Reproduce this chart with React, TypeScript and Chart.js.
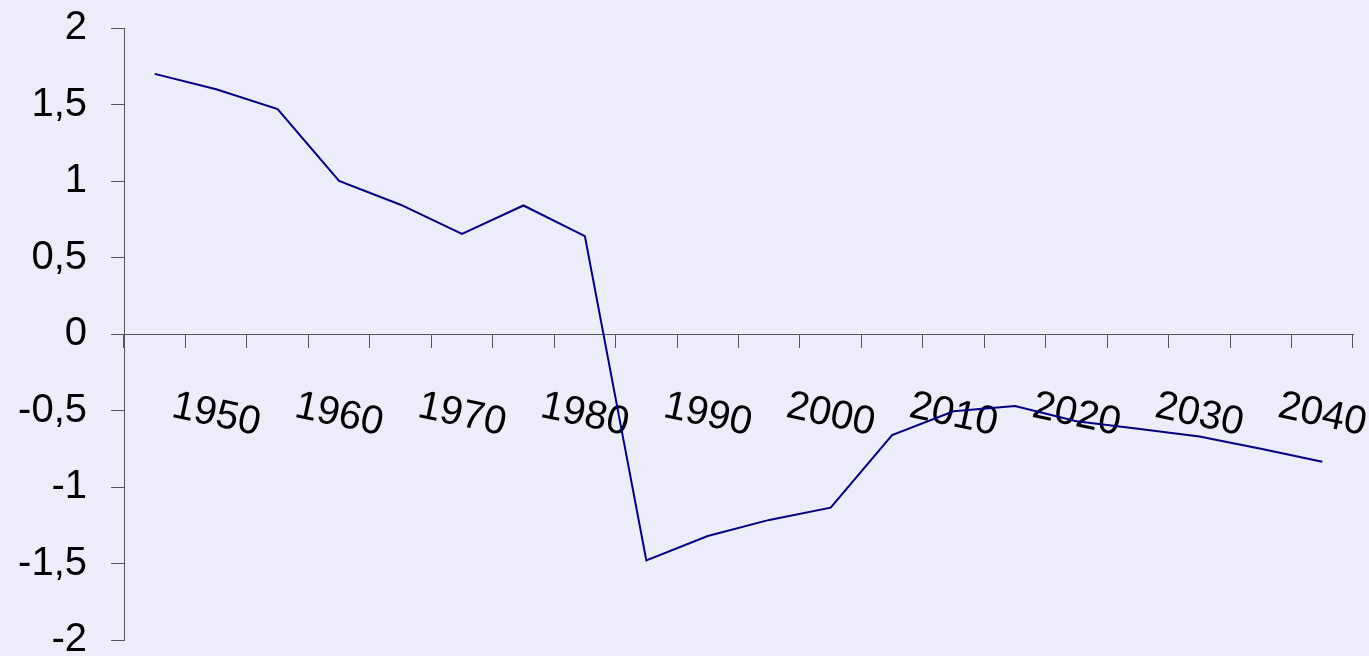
import { useEffect, useRef } from "react";
import { Chart, registerables } from "chart.js";

Chart.register(...registerables);

// Categories: one every 5 years
const years = [
  "1945", "1950", "1955", "1960", "1965", "1970", "1975", "1980", "1985", "1990",
  "1995", "2000", "2005", "2010", "2015", "2020", "2025", "2030", "2035", "2040",
];

// Tick labels shown under the axis (every other category)
const tickLabels = [
  "", "1950", "", "1960", "", "1970", "", "1980", "", "1990",
  "", "2000", "", "2010", "", "2020", "", "2030", "", "2040",
];

// Series values
const values = [
  1.70, 1.60, 1.47, 1.00, 0.845, 0.655, 0.84, 0.64, -1.48, -1.32,
  -1.215, -1.135, -0.66, -0.505, -0.47, -0.57, -0.62, -0.67, -0.75, -0.835,
];

const yMin = -2;
const yMax = 2;
const yStep = 0.5;

const BG = "#EDEDF9";
const AXIS = "#555555";
const FONT = '"Liberation Sans", Arial, sans-serif';
const FONT_SIZE = 40;

export default function App() {
  const ref = useRef<HTMLCanvasElement | null>(null);

  useEffect(() => {
    document.body.style.margin = "0";
    document.body.style.background = BG;
    const canvas = ref.current;
    if (!canvas) return;

    const bgPlugin = {
      id: "bg",
      beforeDraw(chart: any) {
        const { ctx, width, height } = chart;
        ctx.save();
        ctx.fillStyle = BG;
        ctx.fillRect(0, 0, width, height);
        ctx.restore();
      },
    };

    const xLabelPlugin = {
      id: "xlabels",
      beforeDatasetsDraw(chart: any) {
        const xs = chart.scales.x;
        const ys = chart.scales.y;
        const ctx = chart.ctx;
        const y0 = ys.getPixelForValue(0) + 81;
        ctx.save();
        ctx.font = `${FONT_SIZE}px ${FONT}`;
        ctx.fillStyle = "#000000";
        ctx.textAlign = "center";
        ctx.textBaseline = "middle";
        tickLabels.forEach((t, i) => {
          if (!t) return;
          const x = xs.getPixelForTick(i);
          ctx.save();
          ctx.translate(x, y0);
          ctx.rotate((12 * Math.PI) / 180);
          ctx.fillText(t, 0, 0);
          ctx.restore();
        });
        ctx.restore();
      },
    };

    const chart = new Chart(canvas, {
      type: "line",
      data: {
        labels: years,
        datasets: [
          {
            data: values,
            borderColor: "#000080",
            borderWidth: 2,
            pointRadius: 0,
            tension: 0,
            fill: false,
          },
        ],
      },
      options: {
        animation: false,
        responsive: false,
        maintainAspectRatio: false,
        layout: { padding: { top: 28, bottom: 16, right: 16, left: 0 } },
        plugins: {
          legend: { display: false },
          tooltip: { enabled: false },
          title: { display: false },
        },
        scales: {
          x: {
            type: "category",
            offset: true,
            position: { y: 0 } as any,
            grid: {
              display: true,
              drawOnChartArea: false,
              drawTicks: true,
              tickLength: 13,
              offset: true,
              color: AXIS,
              tickColor: AXIS,
              lineWidth: 1,
            },
            border: { display: true, color: AXIS, width: 1 },
            ticks: { display: false },
          },
          y: {
            type: "linear",
            position: "left",
            min: yMin,
            max: yMax,
            afterFit(scale: any) {
              scale.width = 124;
              scale.paddingTop = 0;
              scale.paddingBottom = 0;
            },
            grid: {
              display: true,
              drawOnChartArea: false,
              drawTicks: true,
              tickLength: 13,
              color: AXIS,
              tickColor: AXIS,
              lineWidth: 1,
            },
            border: { display: true, color: AXIS, width: 1 },
            ticks: {
              stepSize: yStep,
              padding: 24,
              color: "#000000",
              font: { family: FONT, size: FONT_SIZE, lineHeight: 0.8 },
              callback: (v: any) => String(v).replace(".", ","),
            },
          },
        },
      },
      plugins: [bgPlugin, xLabelPlugin],
    });

    return () => {
      chart.destroy();
    };
  }, []);

  return <canvas ref={ref} width={1369} height={656} style={{ display: "block", width: 1369, height: 656 }} />;
}
